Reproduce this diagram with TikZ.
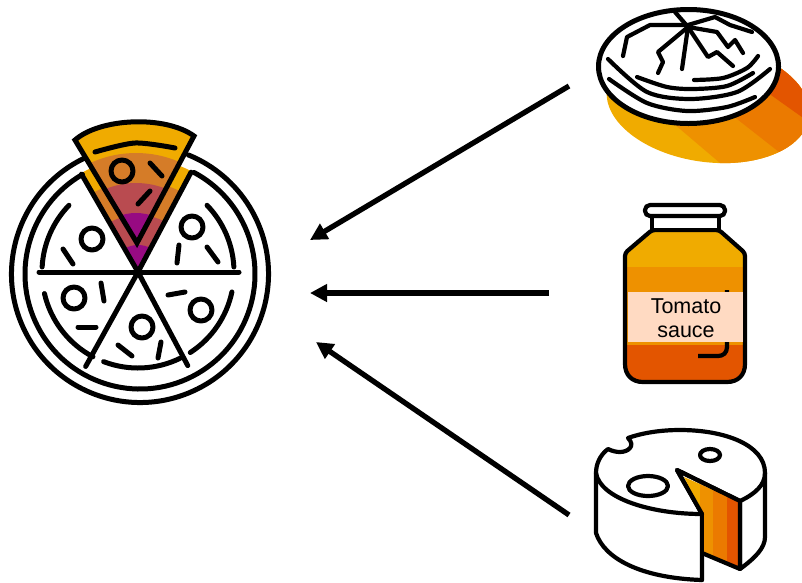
\documentclass[tikz,border=0pt]{standalone}
\usepackage{fontspec}
\setmainfont{Liberation Sans}
\usetikzlibrary{arrows.meta}

\definecolor{band1}{HTML}{F0AB00}
\definecolor{band2}{HTML}{EE9100}
\definecolor{band3}{HTML}{EB7A00}
\definecolor{band4}{HTML}{E35500}
\definecolor{pie1}{HTML}{D57C28}
\definecolor{pie2}{HTML}{B94B50}
\definecolor{pie3}{HTML}{970A82}
\definecolor{paper}{HTML}{FFDAC2}

\begin{document}
\begin{tikzpicture}[
        x=1pt, y=-1pt, % Координаты в пикселях, ось y вниз
        ink/.style={draw=black, line width=5pt, line cap=round, line join=round},
        fine/.style={ink, line width=4.2pt},
        feed/.style={draw=black, line width=5.3pt, -{Triangle[length=17pt,width=17pt]}},
        tag/.style={align=center, font=\fontsize{21.5}{24}\selectfont, inner sep=0pt},
    ]
    \useasboundingbox (0,0) rectangle (802,582);

    % Пицца
    \begin{scope}[shift={(138,272)}, y=1pt]
        \foreach \r/\c in {114/band1, 91/pie1, 57/pie2, 27/pie3}
            \fill[\c] (0,0) -- (120:\r) arc[start angle=120, end angle=62, radius=\r] -- cycle;
        \foreach \a/\b in {136/177, 3/44, 193/242, 249/296, 303/348}
            \draw[ink] (\a:96) arc[start angle=\a, end angle=\b, radius=96];
        \foreach \a/\r in {120/113, 62/113, 241/108, 298/106, 0/101, 180/99}
            \draw[ink] (0,0) -- (\a:\r);
    \end{scope}
    \begin{scope}[shift={(140,274)}, y=1pt]
        \draw[ink] (115:128.5) arc[start angle=115, end angle=428, radius=128.5];
        \draw[ink] (120:115) arc[start angle=120, end angle=422, radius=115];
    \end{scope}

    % Кусок пиццы
    \begin{scope}
        \clip (137,243) -- (75,140) .. controls (100,118) and (165,115) .. (194,136) -- cycle;
        \fill[band1] (60,110) rectangle (210,250);
        \foreach \r/\c in {109/pie1, 79/pie2, 49/pie3}
            \fill[\c] (136,262) circle[radius=\r];
    \end{scope}
    \draw[draw=black, line width=5pt, line join=miter] (137,243) -- (75,140) .. controls (100,118) and (165,115) .. (194,136) -- cycle;
    \draw[ink] plot[smooth] coordinates {(95,152) (135,143) (175,148)};

    % Начинка
    \foreach \x/\y in {122/171, 92/239, 192/227, 74/298, 142/327, 201/310}
        \draw[ink] (\x,\y) circle[radius=11];
    \foreach \xa/\ya/\xb/\yb in {150/163/162/176, 138/204/150/191, 63/249/73/264, 179/245/177/263,
            207/247/218/262, 101/283/104/301, 78/327/96/327, 118/345/132/356, 161/342/158/358, 168/295/185/292}
        \draw[ink] (\xa,\ya) -- (\xb,\yb);

    % Основа для пиццы
    \begin{scope}
        \clip[rotate around={-8:(708,103)}] (708,103) ellipse[x radius=102, y radius=59];
        \fill[band1] (590,40) rectangle (830,180);
        \fill[band2] (640,95) -- (760,197) -- (830,197) -- (830,0) -- (640,0) -- cycle;
        \fill[band3] (700,90) -- (830,192) -- (830,0) -- (700,0) -- cycle;
        \fill[band4] (740,73) -- (830,137) -- (830,0) -- (740,0) -- cycle;
    \end{scope}
    \draw[ink, fill=white] (688.5,66.5) ellipse[x radius=90, y radius=57];
    \draw[fine] (623,56) -- (627,37) -- (650,25) -- (688,25) -- (715,17) -- (730,25) -- (752,32);
    \draw[fine] (658,73) -- (663,62) -- (658,52) -- (688,27) -- (717,32) -- (728,47) -- (735,40) -- (743,53);
    \draw[fine] (675,12) -- (688,27) -- (682,69);
    \draw[fine] (688,27) -- (708,57) -- (717,52) -- (733,66);
    \draw[fine] plot[smooth] coordinates {(608,59) (647,92) (690,99) (737,92) (770,69)};
    \draw[fine] plot[smooth] coordinates {(609,79) (647,103) (687,111) (727,107) (755,97)};
    \draw[fine] plot[smooth] coordinates {(637,77) (667,87) (693,89) (727,86) (753,73)};
    \draw[fine] plot[smooth] coordinates {(694,80) (723,78) (747,68) (758,56)};

    % Банка с соусом
    \begin{scope}
        \clip (652,230) -- (625,253) -- (625,361)
            .. controls (625,375) and (632,382) .. (646,382) -- (724,382)
            .. controls (738,382) and (745,375) .. (745,361) -- (745,253) -- (719,230) -- cycle;
        \fill[band1] (620,225) rectangle (750,268);
        \fill[band2] (620,267) rectangle (750,345);
        \fill[band4] (620,344.5) rectangle (750,390);
    \end{scope}
    \draw[fine, rounded corners=3pt] (652,230) -- (625,253) -- (625,361)
        .. controls (625,375) and (632,382) .. (646,382) -- (724,382)
        .. controls (738,382) and (745,375) .. (745,361) -- (745,253) -- (719,230) -- cycle;
    \draw[fine, fill=white] (652,216) rectangle (719,230);
    \draw[fine, fill=white, rounded corners=5pt] (645,205) rectangle (725,216);
    \draw[fine, line cap=butt] (727,290) -- (727,347) .. controls (727,353) and (723,356) .. (718,356) -- (698,356);
    \fill[paper] (628,292) rectangle (743,342);
    \node[tag] (sauce) at (686,318) {Tomato\\sauce};

    % Сыр
    \draw[fine, fill=white] (596,473) -- (596,533) .. controls (604,558) and (640,578) .. (702,580)
        -- (702,514) -- (677,470) -- (740,501) -- (740,569) .. controls (755,558) and (765,548) .. (765,537)
        -- (765,473) .. controls (765,445) and (725,430) .. (680,430)
        .. controls (660,430) and (642,433) .. (628,438)
        .. controls (636,446) and (628,452) .. (620,452) .. controls (616,452) and (612,451) .. (608,449)
        .. controls (600,455) and (596,464) .. cycle;
    \draw[fine] (596,473) .. controls (600,498) and (650,514) .. (702,514);
    \draw[fine] (765,473) .. controls (765,485) and (755,494) .. (740,501);
    \fill[band1] (684,477) -- (700,484) -- (700,550) -- (702,551) -- (702,514) -- cycle;
    \fill[band2] (700,484) -- (713,490) -- (713,557) -- (702,553) -- (702,514) -- (700,510) -- cycle;
    \fill[band3] (713,490) -- (727,496) -- (727,563) -- (713,557) -- cycle;
    \fill[band4] (727,496) -- (738,501) -- (738,568) -- (727,563) -- cycle;
    \draw[fine] (702,514) -- (677,470) -- (740,501) -- (740,569) -- (702,553);
    \draw[fine] (702,514) -- (702,580);
    \draw[fine] (648,486) ellipse[x radius=20, y radius=10];
    \draw[fine] (710,455) ellipse[x radius=10, y radius=6];

    % Стрелки
    \coordinate (crustend) at (569,86);
    \coordinate (sauceend) at (549,293);
    \coordinate (cheeseend) at (569,515);
    \coordinate (pizzatop) at (310,240);
    \coordinate (pizzamid) at (310,293);
    \coordinate (pizzalow) at (316,342);
    \draw[feed] (crustend) -- (pizzatop);
    \draw[feed] (sauceend) -- (pizzamid);
    \draw[feed] (cheeseend) -- (pizzalow);

\end{tikzpicture}
\end{document}
